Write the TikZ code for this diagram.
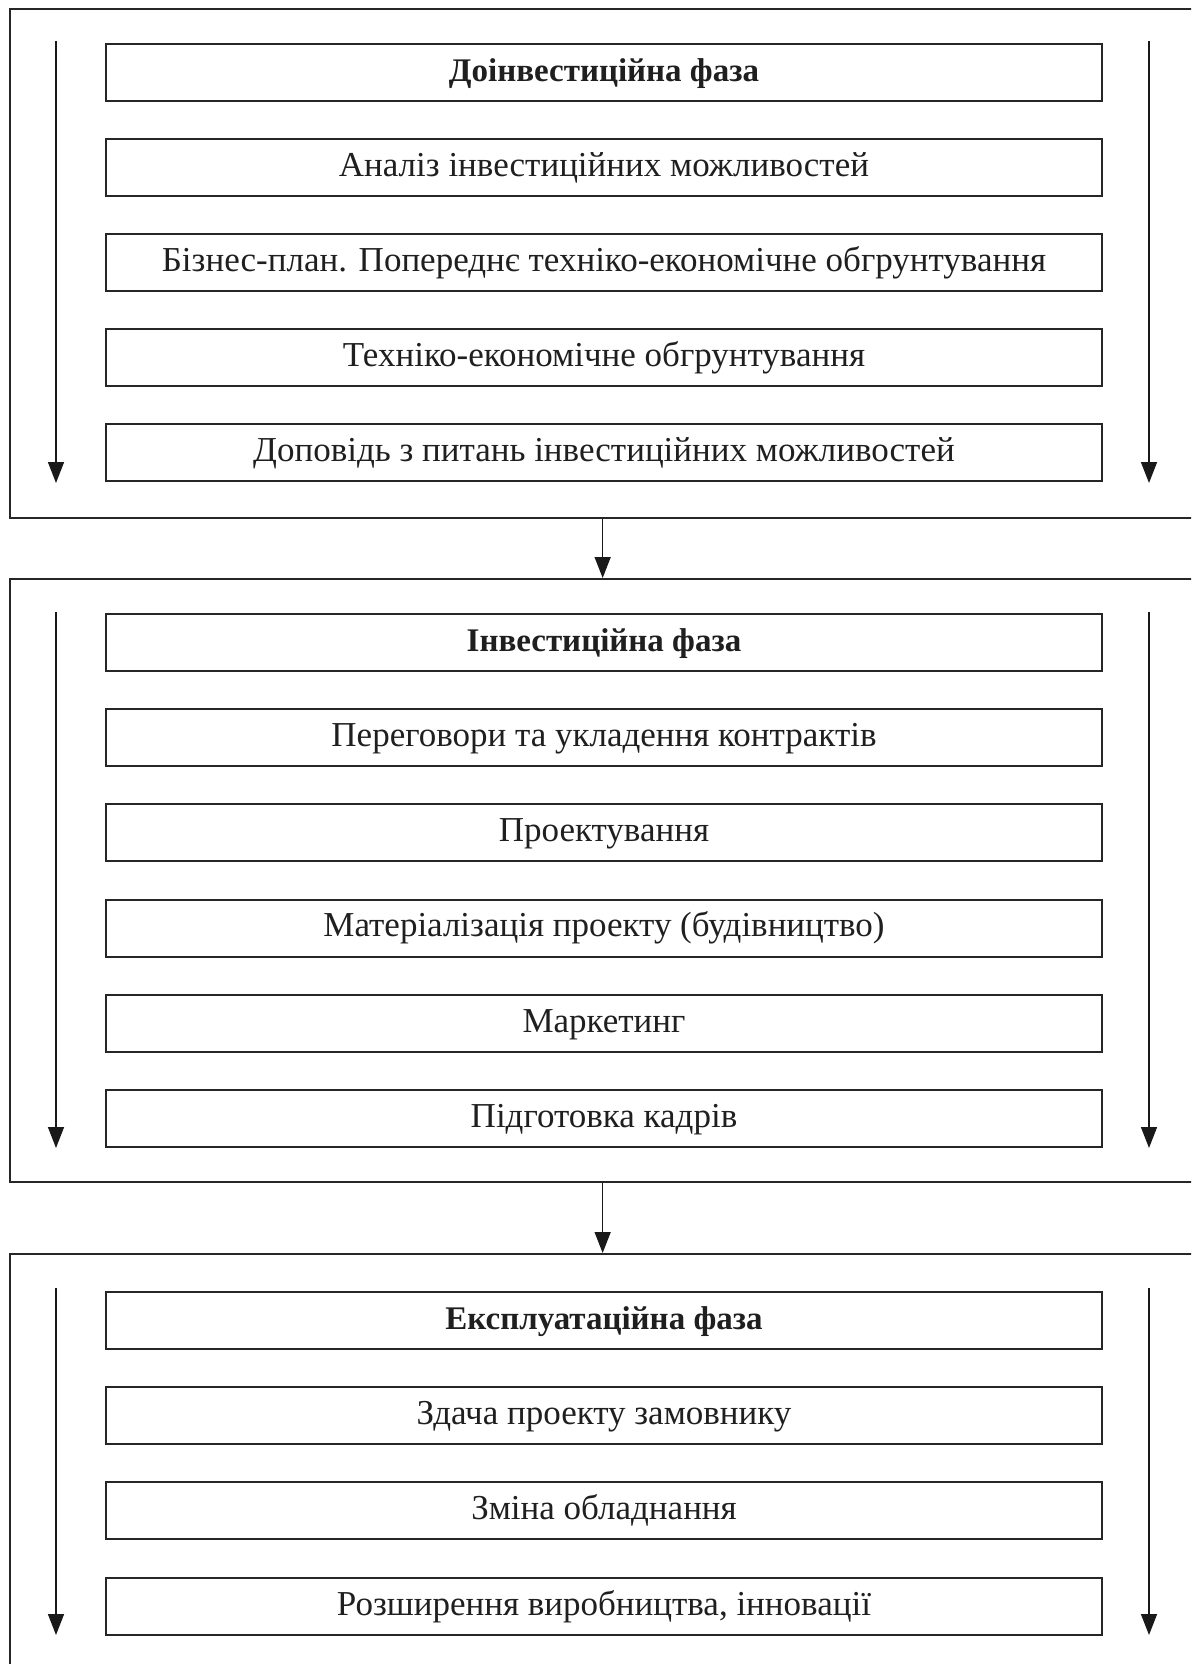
\documentclass[tikz,border=0pt]{standalone}
\usepackage{fontspec}
\setmainfont{Liberation Serif}
\usetikzlibrary{arrows.meta}
\begin{document}
\begin{tikzpicture}[x=1pt,y=-1pt,
  outerbox/.style={draw=black!85, line width=2pt, minimum width=1184.7pt, anchor=north west, inner sep=0pt},
  stagebox/.style={draw=black!85, line width=2pt, minimum width=996pt, minimum height=57pt, anchor=north west, inner sep=0pt,
    font=\fontsize{35}{42}\selectfont, text height=17.4pt, text depth=0pt, text=black!88},
  phasebox/.style={stagebox, font=\fontsize{33}{40}\selectfont\bfseries},
  flow/.style={line width=1.5pt, draw=black!90, -{Triangle[length=21pt,width=16pt]}}
]
\useasboundingbox (0,0) rectangle (1191,1664);
\clip (0,0) rectangle (1191,1664);
% outer frames
\node[outerbox, minimum height=508.7pt] (o1) at (9.3,8.3) {};
\node[outerbox, minimum height=603pt] (o2) at (9.3,578) {};
\node[outerbox, minimum height=500pt] (o3) at (9.3,1253) {};
% connectors between phases
\draw[flow] (o1.south) -- (o2.north);
\draw[flow] (o2.south) -- (o3.north);
% phase 1
\node[phasebox] (a1) at (105,43) {Доінвестиційна фаза};
\node[stagebox] (a2) at (105,138) {Аналіз інвестиційних можливостей};
\node[stagebox] (a3) at (105,233) {Бізнес-план. Попереднє техніко-економічне обгрунтування};
\node[stagebox] (a4) at (105,328) {Техніко-економічне обгрунтування};
\node[stagebox] (a5) at (105,423) {Доповідь з питань інвестиційних можливостей};
\coordinate (al1) at (56,41); \coordinate (al2) at (56,483);
\coordinate (ar1) at (1149,41); \coordinate (ar2) at (1149,483);
\draw[flow] (al1) -- (al2);
\draw[flow] (ar1) -- (ar2);
% phase 2
\node[phasebox] (b1) at (105,613) {Інвестиційна фаза};
\node[stagebox] (b2) at (105,708.2) {Переговори та укладення контрактів};
\node[stagebox] (b3) at (105,803.4) {Проектування};
\node[stagebox] (b4) at (105,898.6) {Матеріалізація проекту (будівництво)};
\node[stagebox] (b5) at (105,993.8) {Маркетинг};
\node[stagebox] (b6) at (105,1089) {Підготовка кадрів};
\coordinate (bl1) at (56,612); \coordinate (bl2) at (56,1148);
\coordinate (br1) at (1149,612); \coordinate (br2) at (1149,1148);
\draw[flow] (bl1) -- (bl2);
\draw[flow] (br1) -- (br2);
% phase 3
\node[phasebox] (c1) at (105,1291) {Експлуатаційна фаза};
\node[stagebox] (c2) at (105,1386) {Здача проекту замовнику};
\node[stagebox] (c3) at (105,1481) {Зміна обладнання};
\node[stagebox] (c4) at (105,1577) {Розширення виробництва, інновації};
\coordinate (cl1) at (56,1288); \coordinate (cl2) at (56,1635);
\coordinate (cr1) at (1149,1288); \coordinate (cr2) at (1149,1635);
\draw[flow] (cl1) -- (cl2);
\draw[flow] (cr1) -- (cr2);
\end{tikzpicture}
\end{document}
